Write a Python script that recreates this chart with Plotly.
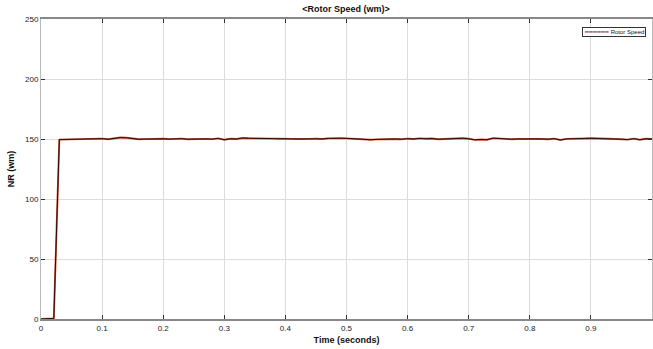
import plotly.graph_objects as go

time_pts = [0.0, 0.02, 0.021, 0.030] + [round(0.03 + 0.01 * i, 2) for i in range(1, 98)]
speed_vals = [0.0, 0.5, 0.5, 149.5,
    149.6, 149.5, 149.7, 150.2, 150.3, 150.2, 150.3, 149.8, 150.6, 151.2,
    151.0, 150.2, 149.8, 149.9, 150.1, 150.0, 150.2, 149.9, 150.4, 150.3,
    149.8, 150.0, 150.3, 150.1, 149.9, 150.5, 149.4, 150.2, 150.0, 150.8,
    150.6, 150.4, 150.1, 150.0, 150.3, 150.2, 149.9, 150.1, 150.0, 150.3,
    150.1, 150.2, 150.0, 150.5, 150.8, 150.6, 150.5, 150.2, 150.0, 149.6,
    149.4, 149.7, 149.9, 150.2, 150.0, 149.8, 150.3, 150.0, 150.5, 150.2,
    150.4, 149.8, 150.1, 150.5, 150.3, 150.6, 150.2, 149.3, 149.6, 149.4,
    150.7, 150.2, 150.0, 149.8, 150.0, 150.2, 150.4, 150.1, 150.0, 149.8,
    150.3, 149.2, 150.1, 150.4, 150.5, 150.4, 150.6, 150.3, 150.2, 149.9,
    150.0, 149.8, 149.5, 150.3, 149.4, 150.2, 150.0]

n = min(len(time_pts), len(speed_vals))
time_pts = time_pts[:n]
speed_vals = speed_vals[:n]

x_ticks = [0, 0.1, 0.2, 0.3, 0.4, 0.5, 0.6, 0.7, 0.8, 0.9, 1]
x_tick_text = ["0", "0.1", "0.2", "0.3", "0.4", "0.5", "0.6", "0.7", "0.8", "0.9", "1"]
y_ticks = [0, 50, 100, 150, 200, 250]
legend_label = "Rotor Speed"

fig = go.Figure()
fig.add_trace(go.Scatter(x=time_pts, y=speed_vals, mode="lines",
                         line=dict(color="#c8502e", width=1.9),
                         showlegend=False, hoverinfo="skip"))
fig.add_trace(go.Scatter(x=time_pts, y=speed_vals, mode="lines",
                         line=dict(color="#2e0a0a", width=1.0),
                         name=legend_label, showlegend=False))

fig.add_annotation(
    xref="paper", yref="paper", x=0.99, y=0.975, xanchor="right", yanchor="top",
    showarrow=False, align="left",
    text="<span style='color:#6a1c1c'>━━━━━━</span> " + legend_label,
    font=dict(size=6, color="#111"),
    bgcolor="white", bordercolor="#333", borderwidth=1, borderpad=1,
)

fig.update_layout(
    width=653, height=349,
    margin=dict(l=41, r=1, t=19, b=30),
    paper_bgcolor="white", plot_bgcolor="white",
    font=dict(family="Liberation Sans, Arial", size=8, color="#222"),
    title=dict(text="<b>&lt;Rotor Speed (wm)&gt;</b>", x=0.53, xanchor="center",
               y=0.985, yanchor="top", font=dict(size=9, color="#111")),
    showlegend=False,
    xaxis=dict(range=[0, 1], tickvals=x_ticks, ticktext=x_tick_text,
               showgrid=True, gridcolor="#dcdcdc", gridwidth=1,
               showline=True, linecolor="#888", linewidth=2, mirror="ticks",
               ticks="inside", ticklen=4, tickcolor="#333",
               zeroline=False,
               title=dict(text="<b>Time (seconds)</b>", standoff=5,
                          font=dict(size=9, color="#111"))),
    yaxis=dict(range=[0, 250], tickvals=y_ticks,
               showgrid=True, gridcolor="#dcdcdc", gridwidth=1,
               showline=True, linecolor="#bbb", linewidth=1, mirror="ticks",
               ticks="inside", ticklen=4, tickcolor="#333",
               zeroline=False,
               title=dict(text="<b>NR (wm)</b>", standoff=8,
                          font=dict(size=9, color="#111"))),
)

fig.write_html("out.html", config={"displayModeBar": False},
               post_script="document.body.style.margin='0';document.body.style.padding='0';")
